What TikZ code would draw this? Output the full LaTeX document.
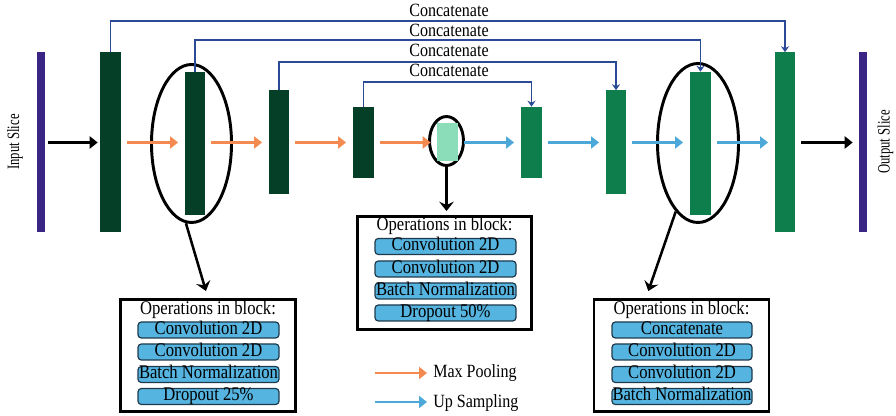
\documentclass[tikz,border=0pt]{standalone}
\usepackage{fontspec}
\setmainfont{Liberation Serif}[FakeStretch=0.86]
\usetikzlibrary{arrows.meta,shapes.geometric,calc}
\definecolor{dgreen}{HTML}{053F27}
\definecolor{mgreen}{HTML}{0E7F4C}
\definecolor{lgreen}{HTML}{8ADDB8}
\definecolor{slicepurple}{HTML}{3A2585}
\definecolor{poolorange}{HTML}{F48A50}
\definecolor{upblue}{HTML}{4BA8D9}
\definecolor{rowblue}{HTML}{56B4E0}
\definecolor{rowedge}{HTML}{1E3A4C}
\definecolor{concatblue}{HTML}{2A4A96}
\begin{document}
\begin{tikzpicture}[x=0.75pt,y=-0.75pt,
  sz/.style 2 args={minimum width=#1*0.75pt, minimum height=#2*0.75pt},
  blk/.style={rectangle, inner sep=0pt, fill=#1},
  oval/.style={ellipse, draw=black, line width=2.2pt, inner sep=0pt},
  opbox/.style={rectangle, draw=black, line width=2.2pt, inner sep=0pt},
  txt/.style={font=\fontsize{14.5}{16}\selectfont, inner sep=0pt},
  oprow/.style={rectangle, rounded corners=2.5pt, draw=rowedge, line width=0.9pt, fill=rowblue,
     inner sep=0pt, text height=9pt, text depth=2.5pt, font=\fontsize{14.5}{16}\selectfont},
  slicelbl/.style={rotate=90, font=\fontsize{13}{15}\selectfont, inner sep=0pt},
  pool/.style={draw=poolorange, line width=2.2pt, -{Triangle[length=6pt,width=9pt]}, shorten <=4.5pt, shorten >=5pt},
  upsamp/.style={draw=upblue, line width=2.2pt, -{Triangle[length=6pt,width=9pt]}, shorten <=4.5pt, shorten >=5pt},
  flow/.style={draw=black, line width=2.2pt, -{Triangle[length=6pt,width=9pt]}},
  concat/.style={draw=concatblue, line width=1.1pt, -{Stealth[length=4.5pt,width=6pt]}},
  ptr/.style={draw=black, line width=1.9pt, -{Stealth[length=7pt,width=11pt,inset=2.5pt]}},
  lbl/.style={font=\fontsize{14}{16}\selectfont, inner sep=0pt, anchor=base}
]
\useasboundingbox (0,0) rectangle (896,416);

% ellipses (behind)
\node[oval, sz={80}{158}] (e1) at (191.5,143.5) {};
\node[oval, sz={34}{49}] (e2) at (446.5,141) {};
\node[oval, sz={81}{159}] (e3) at (698,143) {};

% slices and blocks
\node[blk=slicepurple, sz={8}{180}] (inbar) at (41,142.5) {};
\node[blk=dgreen, sz={21}{180}] (b1) at (110.5,142.5) {};
\node[blk=dgreen, sz={20}{143}] (b2) at (195,143.5) {};
\node[blk=dgreen, sz={20}{104}] (b3) at (279,142.5) {};
\node[blk=dgreen, sz={21}{71}] (b4) at (363.5,142.5) {};
\node[blk=lgreen, sz={21}{38}] (bn) at (447.5,142.5) {};
\node[blk=mgreen, sz={21}{71}] (u1) at (531.5,142.5) {};
\node[blk=mgreen, sz={20}{104}] (u2) at (616,142.5) {};
\node[blk=mgreen, sz={21}{143}] (u3) at (700.5,143.5) {};
\node[blk=mgreen, sz={20}{180}] (u4) at (785,142.5) {};
\node[blk=slicepurple, sz={8}{180}] (outbar) at (863,142.5) {};

\node[slicelbl] (inlbl) at (15,142) {\scalebox{0.85}[1]{Input Slice}};
\node[slicelbl] (outlbl) at (885.5,142) {\scalebox{0.85}[1]{Output Slice}};

% main flow
\draw[flow, shorten <=2.2pt, shorten >=1.5pt] (inbar.east) -- (b1.west |- inbar.east);
\draw[pool] (b1.east |- 0,142.5) -- (b2.west |- 0,142.5);
\draw[pool] (b2.east |- 0,142.5) -- (b3.west |- 0,142.5);
\draw[pool] (b3) -- (b4);
\draw[pool, shorten >=4.5pt] (b4) -- (bn);
\draw[upsamp] (bn) -- (u1);
\draw[upsamp] (u1) -- (u2);
\draw[upsamp] (u2.east |- 0,142.5) -- (u3.west |- 0,142.5);
\draw[upsamp] (u3.east |- 0,142.5) -- (u4.west |- 0,142.5);
\draw[flow, shorten <=4.5pt, shorten >=4.5pt] (u4) -- (outbar);

% concatenations
\coordinate (k1) at (449,21);
\coordinate (k2) at (449,40);
\coordinate (k3) at (449,62);
\coordinate (k4) at (449,82);
\draw[concat] (b1.north) |- (k1) -| (u4.north);
\draw[concat] (b2.north) |- (k2) -| (u3.north);
\draw[concat] (b3.north) |- (k3) -| (u2.north);
\draw[concat] (b4.north) |- (k4) -| (u1.north);
\node[lbl] (c1) at (449,17) {Concatenate};
\node[lbl] (c2) at (449,37) {Concatenate};
\node[lbl] (c3) at (449,57) {Concatenate};
\node[lbl] (c4) at (449,77) {Concatenate};

% operation boxes
\node[opbox, sz={175}{112}] (box1) at (208,355.5) {};
\node[txt] (t1) at (208,310) {Operations in block:};
\node[oprow, sz={141}{16}] (r11) at (208.5,330) {Convolution 2D};
\node[oprow, sz={141}{16}] (r12) at (208.5,352) {Convolution 2D};
\node[oprow, sz={141}{16}] (r13) at (208.5,374.5) {Batch Normalization};
\node[oprow, sz={141}{16}] (r14) at (208.5,396.5) {Dropout 25\%};

\node[opbox, sz={174}{113}] (box2) at (444.5,273) {};
\node[txt] (t2) at (444.5,226) {Operations in block:};
\node[oprow, sz={141}{16}] (r21) at (445.5,246.5) {Convolution 2D};
\node[oprow, sz={141}{16}] (r22) at (445.5,269) {Convolution 2D};
\node[oprow, sz={141}{16}] (r23) at (445.5,291) {Batch Normalization};
\node[oprow, sz={141}{16}] (r24) at (445.5,313) {Dropout 50\%};

\node[opbox, sz={175}{112}] (box3) at (681.5,355.5) {};
\node[txt] (t3) at (681.5,310) {Operations in block:};
\node[oprow, sz={140}{16}] (r31) at (682,330) {Concatenate};
\node[oprow, sz={140}{16}] (r32) at (682,352) {Convolution 2D};
\node[oprow, sz={140}{16}] (r33) at (682,374.5) {Convolution 2D};
\node[oprow, sz={140}{16}] (r34) at (682,396.5) {Batch Normalization};

% pointers
\coordinate (p3) at ($(box3.north west)!0.3!(box3.north east)$);
\draw[ptr, shorten >=5.5pt] (e1.266) -- (box1.north);
\draw[ptr, shorten >=3pt] (e2.south) -- (e2.south |- box2.north);
\draw[ptr, shorten >=5.5pt] (e3.252) -- (p3);

% legend
\coordinate (lp1) at (375,373);
\coordinate (lp2) at (427,373);
\coordinate (lu1) at (375,402);
\coordinate (lu2) at (427,402);
\draw[pool, shorten <=0pt, shorten >=0pt] (lp1) -- (lp2);
\draw[upsamp, shorten <=0pt, shorten >=0pt] (lu1) -- (lu2);
\node[lbl, anchor=base west] (lmp) at (433,378) {Max Pooling};
\node[lbl, anchor=base west] (lus) at (433,407) {Up Sampling};
\end{tikzpicture}
\end{document}
